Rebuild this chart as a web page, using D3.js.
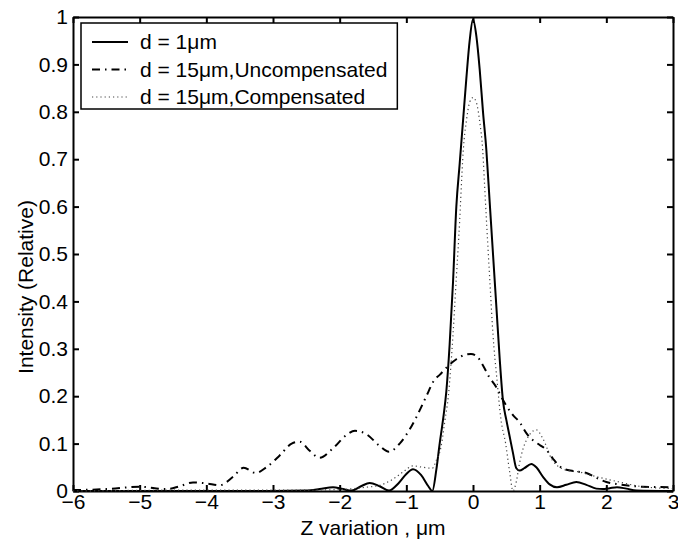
<!DOCTYPE html>
<html>
<head>
<meta charset="utf-8">
<script src="https://cdn.jsdelivr.net/npm/d3@7"></script>
<style>
  body { margin: 0; background: #fff; }
  text { font-family: "Liberation Sans", Arial, Helvetica, sans-serif; }
</style>
</head>
<body>
<script>
// intensity profiles
const xTicks = [-6, -5, -4, -3, -2, -1, 0, 1, 2, 3];
const yTicks = [0, 0.1, 0.2, 0.3, 0.4, 0.5, 0.6, 0.7, 0.8, 0.9, 1];
const yTickLabels = ['0', '0.1', '0.2', '0.3', '0.4', '0.5', '0.6', '0.7', '0.8', '0.9', '1'];
const seriesNames = ['d = 1\u03bcm', 'd = 15\u03bcm,Uncompensated', 'd = 15\u03bcm,Compensated'];

const d1 = [[-6, 0], [-3, 0], [-2.5, 0.001], [-2.3, 0.004], [-2.1, 0.008], [-1.95, 0.004], [-1.82, 0.001],
  [-1.68, 0.01], [-1.55, 0.017], [-1.4, 0.01], [-1.26, 0.001], [-1.12, 0.016], [-1.0, 0.036], [-0.9, 0.046],
  [-0.78, 0.034], [-0.67, 0.01], [-0.61, 0], [-0.55, 0.045], [-0.5, 0.1], [-0.45, 0.15], [-0.4, 0.21],
  [-0.35, 0.31], [-0.3, 0.44], [-0.25, 0.6], [-0.2, 0.69], [-0.15, 0.78], [-0.1, 0.87], [-0.05, 0.95],
  [0, 0.995], [0.05, 0.96], [0.1, 0.89], [0.15, 0.8], [0.2, 0.72], [0.25, 0.61], [0.3, 0.5], [0.35, 0.39],
  [0.4, 0.28], [0.45, 0.19], [0.5, 0.15], [0.55, 0.115], [0.6, 0.08], [0.65, 0.048], [0.7, 0.043],
  [0.77, 0.048], [0.875, 0.057], [0.95, 0.05], [1.05, 0.03], [1.15, 0.014], [1.26, 0.008], [1.4, 0.013],
  [1.55, 0.019], [1.7, 0.013], [1.85, 0.005], [1.95, 0.004], [2.05, 0.006], [2.16, 0.008], [2.3, 0.005],
  [2.45, 0.001], [3, 0]];

const d15u = [[-6, 0.002], [-5.5, 0.004], [-5.0, 0.009], [-4.6, 0.004], [-4.4, 0.01], [-4.2, 0.018],
  [-4.0, 0.016], [-3.8, 0.012], [-3.6, 0.03], [-3.44, 0.049], [-3.26, 0.038], [-3.1, 0.05], [-2.9, 0.075],
  [-2.72, 0.1], [-2.6, 0.104], [-2.45, 0.085], [-2.3, 0.07], [-2.1, 0.09], [-1.9, 0.118], [-1.77, 0.127],
  [-1.6, 0.12], [-1.4, 0.095], [-1.26, 0.083], [-1.1, 0.1], [-0.95, 0.13], [-0.8, 0.17], [-0.7, 0.2],
  [-0.58, 0.234], [-0.5, 0.245], [-0.4, 0.26], [-0.25, 0.278], [-0.1, 0.288], [-0.03, 0.289], [0.05, 0.285],
  [0.15, 0.265], [0.24, 0.241], [0.345, 0.22], [0.42, 0.2], [0.5, 0.18], [0.6, 0.16], [0.7, 0.145],
  [0.8, 0.122], [0.9, 0.107], [1.0, 0.097], [1.1, 0.087], [1.2, 0.068], [1.34, 0.048], [1.5, 0.042],
  [1.7, 0.038], [1.85, 0.028], [2.0, 0.019], [2.2, 0.014], [2.54, 0.009], [3.0, 0.008]];

const d15c = [[-6, 0], [-4, 0.002], [-3, 0.002], [-2.5, 0.002], [-2.0, 0.003], [-1.8, 0.005], [-1.6, 0.008],
  [-1.4, 0.012], [-1.2, 0.025], [-1.05, 0.04], [-0.9, 0.053], [-0.75, 0.05], [-0.61, 0.048], [-0.55, 0.065],
  [-0.48, 0.093], [-0.42, 0.15], [-0.37, 0.2], [-0.3, 0.33], [-0.25, 0.45], [-0.2, 0.57], [-0.185, 0.614],
  [-0.145, 0.72], [-0.1, 0.78], [-0.05, 0.82], [0, 0.83], [0.05, 0.82], [0.1, 0.78], [0.145, 0.72],
  [0.185, 0.614], [0.25, 0.45], [0.3, 0.33], [0.36, 0.234], [0.42, 0.15], [0.49, 0.1], [0.55, 0.04],
  [0.6, 0], [0.65, 0.02], [0.7, 0.06], [0.8, 0.107], [0.95, 0.129], [1.05, 0.11], [1.19, 0.065],
  [1.4, 0.044], [1.6, 0.04], [1.8, 0.032], [2.1, 0.022], [2.5, 0.01], [3.0, 0.005]];

const W = 678, H = 541;
const plotL = 73, plotR = 673, plotT = 17, plotB = 491;

const svg = d3.select('body').append('svg')
  .attr('width', W)
  .attr('height', H);

const x = d3.scaleLinear().domain([-6, 3]).range([plotL, plotR]);
const y = d3.scaleLinear().domain([0, 1]).range([plotB, plotT]);

const fmtX = d => (d < 0 ? '\u2212' + Math.abs(d) : '' + d);

// axes, ticks inward on all sides
svg.append('g').attr('transform', `translate(0,${plotB})`)
  .call(d3.axisBottom(x).tickValues(xTicks).tickFormat(fmtX).tickSizeInner(-6).tickSizeOuter(0).tickPadding(3));
svg.append('g').attr('transform', `translate(0,${plotT})`)
  .call(d3.axisTop(x).tickValues(xTicks).tickFormat('').tickSizeInner(-6).tickSizeOuter(0));
svg.append('g').attr('transform', `translate(${plotL},0)`)
  .call(d3.axisLeft(y).tickValues(yTicks).tickFormat((d, i) => yTickLabels[i]).tickSizeInner(-6).tickSizeOuter(0).tickPadding(5));
svg.append('g').attr('transform', `translate(${plotR},0)`)
  .call(d3.axisRight(y).tickValues(yTicks).tickFormat('').tickSizeInner(-6).tickSizeOuter(0));

svg.selectAll('.domain').attr('stroke', '#000').attr('stroke-width', 2);
svg.selectAll('.tick line').attr('stroke', '#000').attr('stroke-width', 2);
svg.selectAll('.tick text').attr('font-size', 21).attr('fill', '#000');

// the curves
const line = d3.line()
  .x(d => x(d[0]))
  .y(d => y(d[1]))
  .curve(d3.curveMonotoneX);

const styles = [
  { data: d1, width: 2, dash: null, color: '#000' },
  { data: d15u, width: 2, dash: '8,5,1.5,5', color: '#000' },
  { data: d15c, width: 1.2, dash: '1.2,3', color: '#444' }
];

styles.forEach(s => {
  svg.append('path')
    .datum(s.data)
    .attr('d', line)
    .attr('fill', 'none')
    .attr('stroke', s.color)
    .attr('stroke-width', s.width)
    .attr('stroke-dasharray', s.dash);
});

// legend
const lg = svg.append('g').attr('transform', 'translate(81,23)');
const box = lg.append('rect')
  .attr('height', 86)
  .attr('fill', '#fff').attr('stroke', '#000').attr('stroke-width', 1.5);
let maxW = 0;
styles.forEach((s, i) => {
  const ly = 19 + i * 27.5;
  lg.append('line')
    .attr('x1', 11).attr('x2', 47).attr('y1', ly).attr('y2', ly)
    .attr('stroke', s.color).attr('stroke-width', s.width)
    .attr('stroke-dasharray', s.dash);
  const t = lg.append('text')
    .attr('x', 59).attr('y', ly).attr('dy', '0.35em')
    .attr('font-size', 21)
    .text(seriesNames[i]);
  maxW = Math.max(maxW, t.node().getComputedTextLength());
});
box.attr('width', 59 + maxW + 10);

// axis titles
svg.append('text')
  .attr('x', (plotL + plotR) / 2).attr('y', 535)
  .attr('text-anchor', 'middle').attr('font-size', 21)
  .text('Z variation , \u03bcm');
svg.append('text')
  .attr('transform', 'translate(33,287) rotate(-90)')
  .attr('text-anchor', 'middle').attr('font-size', 21)
  .text('Intensity (Relative)');
</script>
</body>
</html>
